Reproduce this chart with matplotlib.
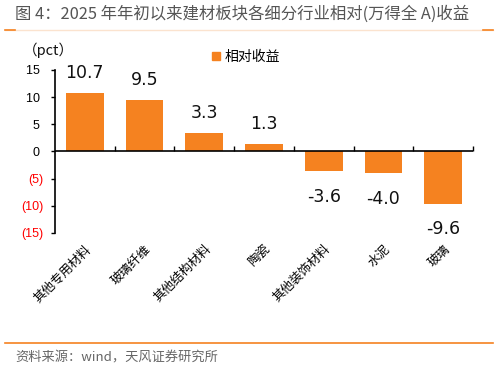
import matplotlib
matplotlib.use("Agg")
import matplotlib.pyplot as plt
from matplotlib.lines import Line2D
from matplotlib.patches import Patch

plt.rcParams['font.family'] = ['Noto Sans CJK SC', 'DejaVu Sans']

categories = ["其他专用材料", "玻璃纤维", "其他结构材料", "陶瓷", "其他装饰材料", "水泥", "玻璃"]
values = [10.7, 9.5, 3.3, 1.3, -3.6, -4.0, -9.6]
yticks = [15, 10, 5, 0, -5, -10, -15]
ytick_labels = ["15 ", "10 ", "5 ", "0 ", "(5)", "(10)", "(15)"]
series_name = "相对收益"
title = "图 4：2025 年年初以来建材板块各细分行业相对(万得全 A)收益"
source = "资料来源：wind，天风证券研究所"
unit = "（pct）"

orange = "#F58220"

fig = plt.figure(figsize=(4.99, 3.72), dpi=100)
ax = fig.add_axes([0.110, 0.374, 0.838, 0.438])

x = list(range(len(categories)))
bars = ax.bar(x, values, width=0.63, color=orange, zorder=2)

for xi, v in zip(x, values):
    if v >= 0:
        ax.annotate(f"{v:.1f}", (xi, v), xytext=(0, 8), textcoords="offset points",
                    ha="center", va="bottom", fontsize=12.5, family="DejaVu Sans", color="#111111")
    else:
        ax.annotate(f"{v:.1f}", (xi, v), xytext=(0, -12), textcoords="offset points",
                    ha="center", va="top", fontsize=12.5, family="DejaVu Sans", color="#111111")

ax.set_xlim(-0.5, len(categories) - 0.5)
ax.set_ylim(-15, 15)
ax.set_yticks(yticks)
ax.set_yticklabels(ytick_labels, fontsize=9, family="Liberation Sans")
for lbl, v in zip(ax.get_yticklabels(), yticks):
    lbl.set_color("red" if v < 0 else "black")
ax.tick_params(axis="y", direction="out", length=3, width=1, pad=5.5)

ax.set_xticks(x)
ax.set_xticklabels(categories, rotation=45, ha="right", va="top",
                   rotation_mode="anchor", fontsize=9)
ax.tick_params(axis="x", length=0, pad=7)

for s in ["top", "right", "bottom"]:
    ax.spines[s].set_visible(False)
ax.spines["left"].set_linewidth(1.2)

ax.axhline(0, color="black", linewidth=1.2, zorder=3)
sec = ax.secondary_xaxis(0.5)
sec.set_xticks([i + 0.5 for i in range(len(categories))])
sec.set_xticklabels([])
sec.tick_params(direction="out", length=3.5, width=1)
sec.spines["bottom"].set_visible(False)
sec.spines["top"].set_visible(False)

ax.legend(handles=[Patch(color=orange)], labels=[series_name],
          loc="center left", bbox_to_anchor=(0.375, 1.08), frameon=False,
          fontsize=10, handlelength=0.6, handleheight=0.6, handletextpad=0.35,
          borderpad=0, borderaxespad=0)

fig.text(0.03, 0.962, title, fontsize=11.8, color="#555555", weight="medium", va="center", ha="left")
fig.add_artist(Line2D([0.01, 0.988], [0.919, 0.919], color="#FBE3CF", linewidth=1))
fig.add_artist(Line2D([0.01, 0.03], [0.919, 0.919], color=orange, linewidth=1.2))
fig.add_artist(Line2D([0.968, 0.988], [0.919, 0.919], color=orange, linewidth=1.2))
fig.text(0.045, 0.865, unit, fontsize=10.5, color="#111111", va="center", ha="left")

fig.add_artist(Line2D([0.01, 0.988], [0.079, 0.079], color="#F58220", linewidth=1.2))
fig.text(0.03, 0.037, source, fontsize=9.5, color="#666666", va="center", ha="left")

fig.savefig("out.png", dpi=100)
